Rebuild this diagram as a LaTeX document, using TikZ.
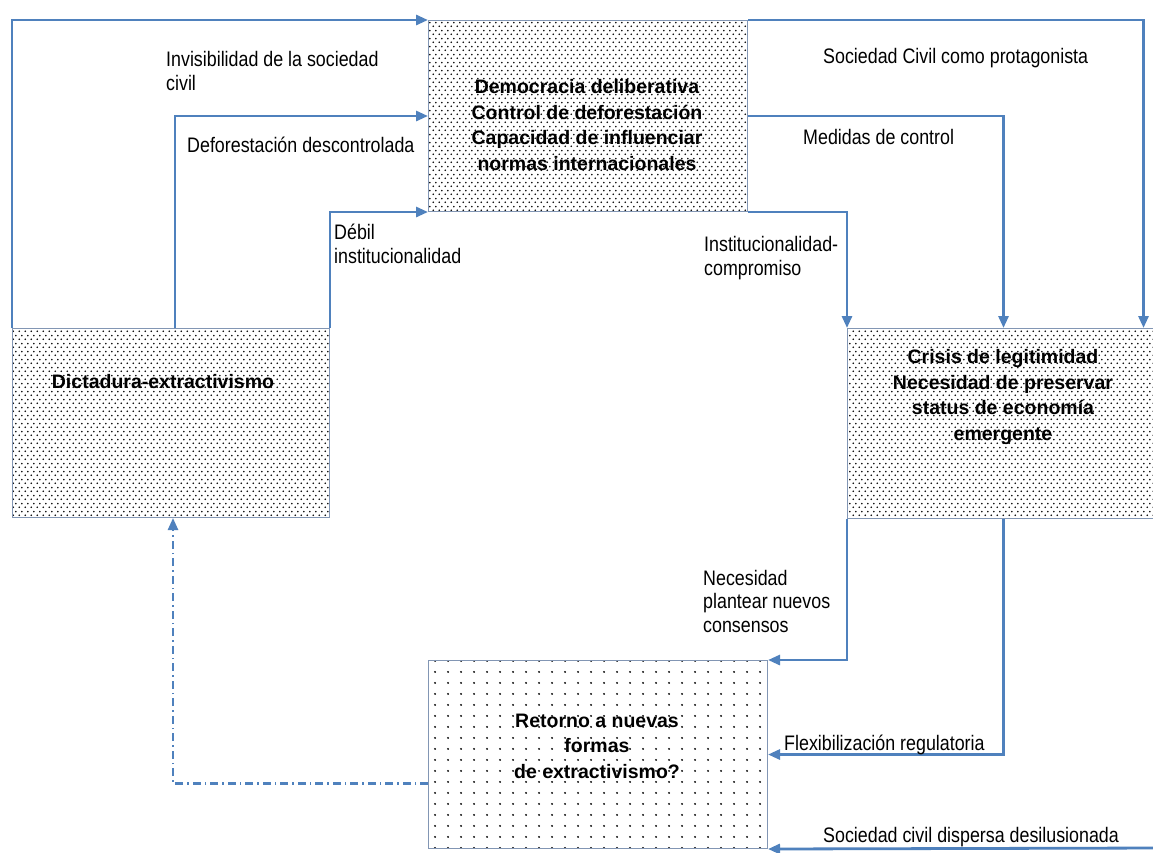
\documentclass[tikz,border=0pt]{standalone}
\usepackage{fontspec}
\setmainfont{Liberation Sans}
\newfontfamily\lblfont[FakeStretch=0.85]{Liberation Sans}
\usetikzlibrary{arrows.meta,patterns.meta,calc}
\definecolor{lineblue}{RGB}{79,129,189}
\definecolor{boxedge}{RGB}{130,150,180}
\tikzdeclarepattern{
  name=densedots, type=uncolored,
  bounding box={(0pt,0pt) and (6pt,8pt)},
  tile size={(6pt,8pt)},
  code={\pgfpathcircle{\pgfpoint{1.5pt}{2pt}}{1.0pt}\pgfpathcircle{\pgfpoint{4.5pt}{6pt}}{1.0pt}\pgfusepath{fill}}
}
\tikzdeclarepattern{
  name=sparsedots, type=uncolored,
  bounding box={(0pt,0pt) and (13pt,11pt)},
  tile size={(13pt,11pt)},
  code={\pgfpathcircle{\pgfpoint{6.5pt}{5.5pt}}{1.15pt}\pgfusepath{fill}}
}
\tikzset{
  box/.style={draw=boxedge, line width=1pt, rectangle, inner sep=0pt, anchor=north west},
  dense/.style={box, pattern=densedots},
  sparse/.style={box, pattern=sparsedots},
  boxtext/.style={font=\bfseries\fontsize{19.5}{25.5}\selectfont, align=center, inner sep=0pt, anchor=base},
  lbl/.style={font=\lblfont\fontsize{21}{23.5}\selectfont, align=left, inner sep=0pt, anchor=base west},
  conn/.style={draw=lineblue, line width=2.8pt, -{Triangle[length=12pt,width=10pt]}},
  dashconn/.style={draw=lineblue, line width=2.4pt, dash pattern=on 8pt off 4pt on 1.5pt off 4pt, -{Triangle[length=12pt,width=10pt]}}
}
\begin{document}
\begin{tikzpicture}[x=1pt,y=-1pt]
\useasboundingbox (0,0) rectangle (1153,852);
\clip (0,0) rectangle (1153,852);
\fill[white] (0,0) rectangle (1153,852);
% boxes
\node[dense, minimum width=319pt, minimum height=191pt] (top) at (428,20) {};
\node[dense, minimum width=317pt, minimum height=189pt] (dict) at (12,328) {};
\node[dense, minimum width=312pt, minimum height=190pt] (crisis) at (847,328) {};
\node[sparse, minimum width=339pt, minimum height=188pt] (ret) at (428,660) {};
% box texts (anchor = baseline of last line)
\node[boxtext] (toptxt) at (587,170) {Democracia deliberativa\\Control de deforestación\\Capacidad de influenciar\\normas internacionales};
\node[boxtext] (dicttxt) at (163,388) {Dictadura-extractivismo};
\node[boxtext] (crisistxt) at (1003,440) {Crisis de legitimidad\\Necesidad de preservar\\status de economía\\emergente};
\node[boxtext] (rettxt) at (597,778) {Retorno a nuevas\\formas\\de extractivismo?};
% free ends
\coordinate (scend) at (1160,848);
% connectors
\draw[conn] (dict.north west) |- (top.north west);
\draw[conn] ([xshift=4pt]dict.north) |- (top.west);
\draw[conn] (dict.north east) |- (top.south west);
\draw[conn] (top.north east) -| ([xshift=140pt]crisis.north);
\draw[conn] (top.east) -| (crisis.north);
\draw[conn] (top.south east) -| (crisis.north west);
\draw[conn] (crisis.south west) |- (ret.north east);
\draw[conn] (crisis.south) |- (ret.east);
\draw[conn] (scend) -- (ret.south east);
\draw[dashconn] ($(ret.west)+(0,29)$) -| ([xshift=2pt]dict.south);
% labels (anchor = baseline of last line)
\node[lbl] (l1) at (166,90) {Invisibilidad de la sociedad\\civil};
\node[lbl] (l2) at (187,152) {Deforestación descontrolada};
\node[lbl] (l3) at (334,263) {Débil\\institucionalidad};
\node[lbl] (l4) at (823,63) {Sociedad Civil como protagonista};
\node[lbl] (l5) at (803,144) {Medidas de control};
\node[lbl] (l6) at (704,275) {Institucionalidad-\\compromiso};
\node[lbl] (l7) at (703,632) {Necesidad\\plantear nuevos\\consensos};
\node[lbl] (l8) at (784,750) {Flexibilización regulatoria};
\node[lbl] (l9) at (823,842) {Sociedad civil dispersa desilusionada};
\end{tikzpicture}
\end{document}
